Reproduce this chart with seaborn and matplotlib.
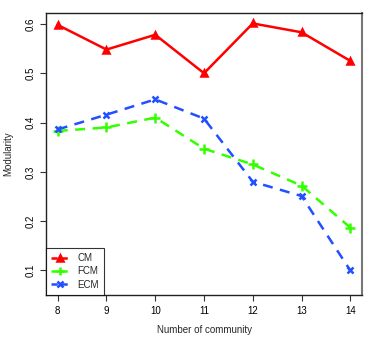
import pandas as pd
import seaborn as sns
import matplotlib.pyplot as plt

# data
communities = [8, 9, 10, 11, 12, 13, 14]
cm = [0.598, 0.548, 0.578, 0.500, 0.601, 0.583, 0.525]
fcm = [0.383, 0.390, 0.410, 0.347, 0.315, 0.272, 0.187]
ecm = [0.386, 0.416, 0.447, 0.408, 0.280, 0.251, 0.100]

sns.set_style("ticks")
plt.rcParams['font.family'] = ['Liberation Sans', 'DejaVu Sans']

fig = plt.figure(figsize=(3.74, 3.44), dpi=100)
ax = fig.add_axes([0.123, 0.142, 0.845, 0.820])

styles = [
    ("CM", cm, "#ff0000", "-", "^", 5),
    ("FCM", fcm, "#33ff00", "--", "+", 7),
    ("ECM", ecm, "#2050ff", "--", "x", 5),
]
for name, vals, col, ls, mk, ms in styles:
    df = pd.DataFrame({"x": communities, "y": vals})
    sns.lineplot(data=df, x="x", y="y", ax=ax, color=col,
                 marker=mk, markersize=ms, markeredgewidth=1.8, linewidth=1.8,
                 markeredgecolor=col, label=name)
    ax.lines[-1].set_linestyle(ls)
    if ls == "--":
        ax.lines[-1].set_dashes((4, 3))

ax.set_xlim(7.76, 14.24)
ax.set_ylim(0.05, 0.622)
ax.set_xticks(communities)
ax.set_yticks([0.1, 0.2, 0.3, 0.4, 0.5, 0.6])
ax.set_yticklabels(["0.1", "0.2", "0.3", "0.4", "0.5", "0.6"], rotation=90, va="center")
ax.tick_params(labelsize=7, length=4, width=0.8, colors="#333333", labelcolor="black")
ax.set_xlabel("Number of community", fontsize=7, labelpad=7)
ax.set_ylabel("Modularity", fontsize=7, labelpad=9)
for s in ax.spines.values():
    s.set_linewidth(1)
    s.set_color("#222222")
ax.spines["right"].set_color("#777777")
ax.spines["right"].set_linewidth(1.5)

leg = ax.legend(loc="lower left", fontsize=7, frameon=True, fancybox=False,
                borderaxespad=0, handlelength=1.8, borderpad=0.55, labelspacing=0.35,
                handletextpad=0.9, markerscale=0.8)
leg.get_frame().set_edgecolor("black")
leg.get_frame().set_linewidth(0.8)
for h in leg.get_lines():
    h.set_linestyle("--")
    h.set_dashes((2.5, 1.5))

fig.savefig("out.png", dpi=100)
